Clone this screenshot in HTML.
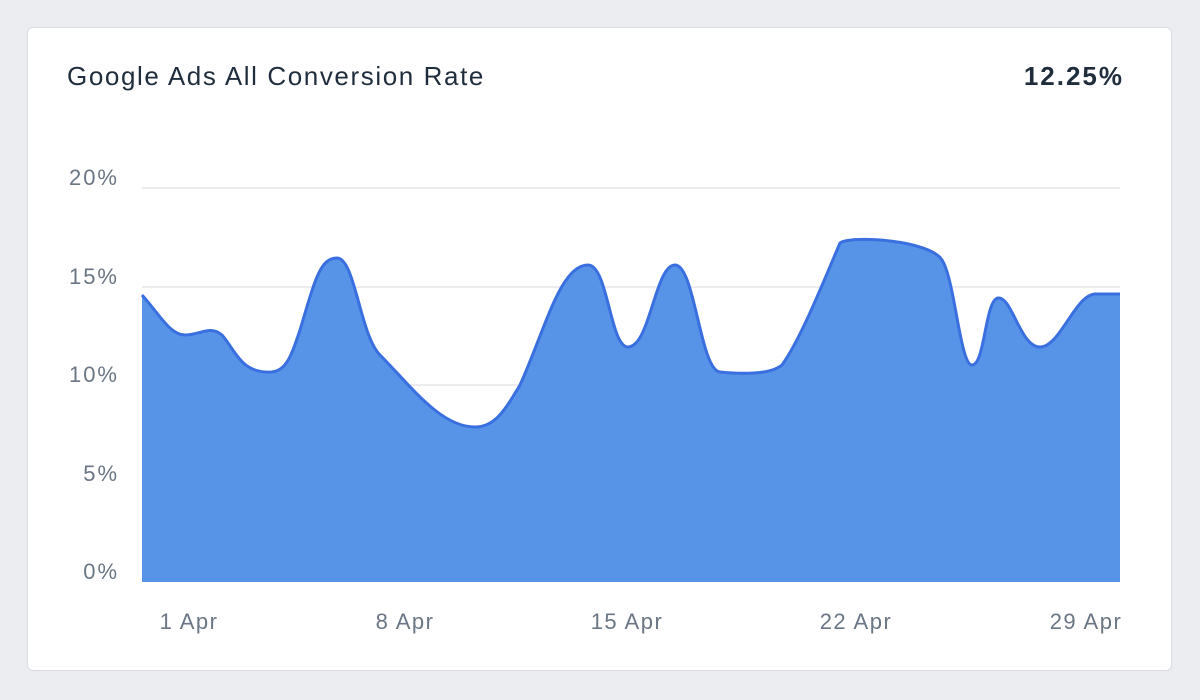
<!DOCTYPE html>
<html><head><meta charset="utf-8"><style>
html,body{margin:0;padding:0;width:1200px;height:700px;background:#ebedf1;overflow:hidden}
.card{position:absolute;left:27px;top:27px;width:1145px;height:644px;background:#fff;border:1px solid #dadde3;border-radius:6px;box-sizing:border-box}
.t{position:absolute;font-family:"Liberation Sans",sans-serif}
</style></head><body>
<div class="card"></div>
<div class="t" style="left:67px;top:61px;font-size:26px;letter-spacing:1.6px;color:#1f2d3d">Google Ads All Conversion Rate</div>
<div class="t" style="right:76px;top:61px;font-size:26px;letter-spacing:2px;font-weight:bold;color:#1f2d3d">12.25%</div>
<svg width="1200" height="700" style="position:absolute;left:0;top:0" font-family="Liberation Sans, sans-serif">
<g stroke="#ececef" stroke-width="2">
<line x1="142" y1="188" x2="1120" y2="188"/><line x1="142" y1="287" x2="1120" y2="287"/><line x1="142" y1="385" x2="1120" y2="385"/><line x1="142" y1="483" x2="1120" y2="483"/>
</g>
<g fill="#6b7684" font-size="22" letter-spacing="2" text-anchor="end">
<text x="119" y="185">20%</text><text x="119" y="284">15%</text><text x="119" y="382">10%</text><text x="119" y="481">5%</text><text x="119" y="579">0%</text>
</g>
<g fill="#6b7684" font-size="22" letter-spacing="1.5" text-anchor="middle">
<text x="189" y="629">1 Apr</text><text x="405" y="629">8 Apr</text><text x="627" y="629">15 Apr</text><text x="856" y="629">22 Apr</text><text x="1086" y="629">29 Apr</text>
</g>
<path d="M142,295 C160,315 170,335 185,335 C200,335 210,325 222,335 C235,350 240,370 265,372 C285,374 290,360 300,330 C315,280 320,258 337,258 C355,258 360,335 380,355 C410,385 440,427 475,427 C495,427 505,410 520,385 C545,330 560,265 588,265 C608,265 610,347 628,347 C650,347 655,265 675,265 C695,265 700,370 720,372 C740,374 770,375 782,365 C800,340 820,290 840,243 C850,235 930,240 942,260 C955,280 960,365 972,365 C985,365 985,300 998,298 C1012,296 1020,347 1040,347 C1060,347 1075,295 1095,294 L1120,294 L1120,582 L142,582 Z" fill="#5794e8"/>
<path d="M142,295 C160,315 170,335 185,335 C200,335 210,325 222,335 C235,350 240,370 265,372 C285,374 290,360 300,330 C315,280 320,258 337,258 C355,258 360,335 380,355 C410,385 440,427 475,427 C495,427 505,410 520,385 C545,330 560,265 588,265 C608,265 610,347 628,347 C650,347 655,265 675,265 C695,265 700,370 720,372 C740,374 770,375 782,365 C800,340 820,290 840,243 C850,235 930,240 942,260 C955,280 960,365 972,365 C985,365 985,300 998,298 C1012,296 1020,347 1040,347 C1060,347 1075,295 1095,294 L1120,294" fill="none" stroke="#3a6fe0" stroke-width="3"/>
</svg>
</body></html>
